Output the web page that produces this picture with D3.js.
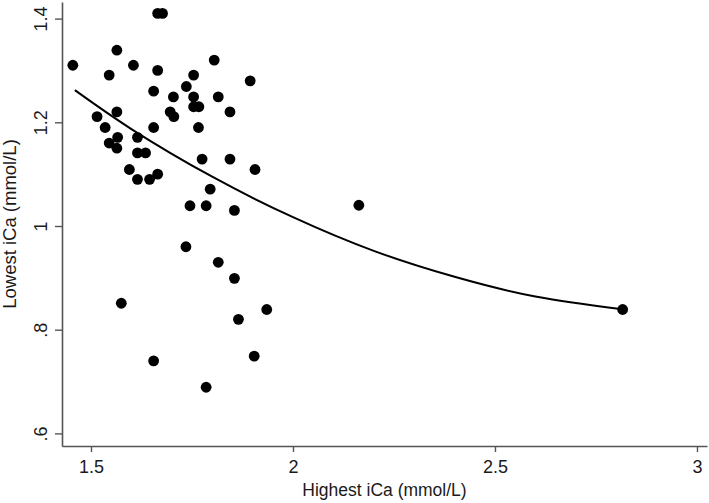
<!DOCTYPE html>
<html>
<head>
<meta charset="utf-8">
<script src="https://cdn.jsdelivr.net/npm/d3@7"></script>
<style>
  html, body { margin: 0; padding: 0; background: #fff; }
  svg { display: block; }
  text { font-family: "Liberation Sans", Arial, Helvetica, sans-serif; fill: #1a1a1a; }
</style>
</head>
<body>
<svg id="chart" width="709" height="503"></svg>
<script>
// Highest iCa (mmol/L) for each patient
const highestICa = [
  1.455, 1.665, 1.677, 1.564, 1.605, 1.545, 1.665, 1.805, 1.754, 1.736,
  1.655, 1.704, 1.754, 1.815, 1.894, 1.515, 1.564, 1.696, 1.705, 1.754,
  1.767, 1.844, 1.535, 1.655, 1.766, 1.566, 1.615, 1.545, 1.564, 1.615,
  1.635, 1.775, 1.844, 1.906, 1.595, 1.615, 1.645, 1.665, 1.795, 1.745,
  1.785, 1.855, 2.163, 1.735, 1.815, 1.855, 1.575, 1.935, 1.865, 1.904,
  1.655, 1.785, 2.816
];
// Lowest iCa (mmol/L) for each patient
const lowestICa = [
  1.310, 1.410, 1.410, 1.339, 1.310, 1.291, 1.300, 1.320, 1.291, 1.269,
  1.260, 1.249, 1.249, 1.249, 1.280, 1.211, 1.220, 1.220, 1.211, 1.230,
  1.230, 1.220, 1.190, 1.190, 1.190, 1.171, 1.171, 1.160, 1.150, 1.141,
  1.141, 1.129, 1.129, 1.109, 1.109, 1.090, 1.090, 1.100, 1.071, 1.039,
  1.039, 1.030, 1.040, 0.960, 0.930, 0.899, 0.851, 0.839, 0.820, 0.749,
  0.740, 0.689, 0.839
];
// Fitted curve
const fitX = [1.46, 1.6, 1.8, 2.0, 2.2, 2.4, 2.6, 2.81];
const fitY = [1.262, 1.187, 1.095, 1.017, 0.952, 0.902, 0.864, 0.840];

const xTicks = [1.5, 2, 2.5, 3];
const xTickLabels = ["1.5", "2", "2.5", "3"];
const yTicks = [0.6, 0.8, 1.0, 1.2, 1.4];
const yTickLabels = [".6", ".8", "1", "1.2", "1.4"];

const xTitle = "Highest iCa (mmol/L)";
const yTitle = "Lowest iCa (mmol/L)";

const svg = d3.select("#chart");
const mLeft = 62, mRight = 707, mTop = 2, mBottom = 446;

const x = d3.scaleLinear().domain([1.4282, 3.0248]).range([mLeft, mRight]);
const y = d3.scaleLinear().domain([0.5757, 1.432]).range([mBottom, mTop]);

svg.append("rect").attr("width", 709).attr("height", 503).attr("fill", "#fff");

// X axis
const xAxis = d3.axisBottom(x)
  .tickValues(xTicks)
  .tickFormat((d, i) => xTickLabels[i])
  .tickSize(6)
  .tickSizeOuter(0)
  .tickPadding(8);
const gx = svg.append("g").attr("transform", `translate(0,${mBottom})`).call(xAxis);
gx.select(".domain").attr("stroke", "#555").attr("stroke-width", 1.6);
gx.selectAll(".tick line").attr("stroke", "#555").attr("stroke-width", 1.4);
gx.selectAll(".tick text").attr("font-size", 18).attr("fill", "#1a1a1a")
  .attr("font-family", "Liberation Sans, Arial, sans-serif");

// Y axis
const yAxis = d3.axisLeft(y)
  .tickValues(yTicks)
  .tickFormat((d, i) => yTickLabels[i])
  .tickSize(7)
  .tickSizeOuter(0)
  .tickPadding(15);
const gy = svg.append("g").attr("transform", `translate(${mLeft},0)`).call(yAxis);
gy.select(".domain").attr("stroke", "#555").attr("stroke-width", 1.6);
gy.selectAll(".tick line").attr("stroke", "#555").attr("stroke-width", 1.4);
gy.selectAll(".tick text")
  .attr("font-size", 18).attr("fill", "#1a1a1a")
  .attr("font-family", "Liberation Sans, Arial, sans-serif")
  .attr("x", null).attr("dy", null)
  .attr("text-anchor", "middle")
  .attr("transform", "translate(-15,0) rotate(-90)");

// Points
svg.append("g").selectAll("circle")
  .data(highestICa.map((v, i) => [v, lowestICa[i]]))
  .join("circle")
  .attr("cx", d => x(d[0]))
  .attr("cy", d => y(d[1]))
  .attr("r", 5.4)
  .attr("fill", "#000");

// Fitted curve
const line = d3.line()
  .x(d => x(d[0]))
  .y(d => y(d[1]))
  .curve(d3.curveNatural);
svg.append("path")
  .datum(fitX.map((v, i) => [v, fitY[i]]))
  .attr("d", line)
  .attr("fill", "none")
  .attr("stroke", "#000")
  .attr("stroke-width", 2);

// Axis titles
svg.append("text")
  .attr("x", (mLeft + mRight) / 2)
  .attr("y", 496)
  .attr("text-anchor", "middle")
  .attr("font-size", 17.5)
  .text(xTitle);

svg.append("text")
  .attr("transform", `translate(16,${(mTop + mBottom) / 2}) rotate(-90)`)
  .attr("text-anchor", "middle")
  .attr("font-size", 18.5)
  .text(yTitle);
</script>
</body>
</html>
